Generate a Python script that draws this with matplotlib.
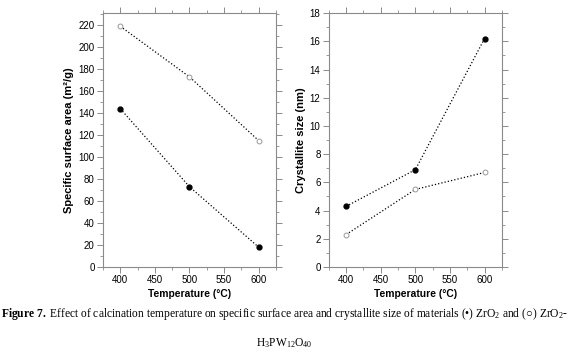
import numpy as np
import matplotlib
matplotlib.use("Agg")
import matplotlib.pyplot as plt
from matplotlib.ticker import MultipleLocator

# dane
temperature = [400, 500, 600]
area_zro2 = [144, 73, 18]
area_hpw = [219, 173, 115]
size_zro2 = [4.3, 6.9, 16.2]
size_hpw = [2.3, 5.5, 6.7]

plt.rcParams['font.family'] = ['Liberation Sans', 'DejaVu Sans']
plt.rcParams['mathtext.fontset'] = 'custom'
plt.rcParams['mathtext.rm'] = 'Liberation Serif'
plt.rcParams['mathtext.it'] = 'Liberation Serif:italic'
plt.rcParams['mathtext.bf'] = 'Liberation Serif:bold'
grey = '#8a8a8a'

fig = plt.figure(figsize=(5.69, 3.55), dpi=100)
ax1 = fig.add_axes([0.181, 0.248, 0.304, 0.715])
ax2 = fig.add_axes([0.578, 0.248, 0.304, 0.715])


def style(ax):
    for s in ax.spines.values():
        s.set_color(grey)
        s.set_linewidth(0.8)
    ax.tick_params(which='both', direction='out', color=grey, labelsize=7,
                   top=True, right=True, labeltop=False, labelright=False, pad=2)
    ax.tick_params(which='major', length=4, width=0.7)
    ax.tick_params(which='minor', length=2, width=0.6)
    ax.set_xlim(375, 625)
    ax.xaxis.set_major_locator(MultipleLocator(50))
    ax.xaxis.set_minor_locator(MultipleLocator(25))
    ax.set_xlabel("Temperature (°C)", fontsize=7.4, fontweight='bold', labelpad=3)


# powierzchnia właściwa
ax1.plot(temperature, area_hpw, ':', color='k', lw=0.9, marker='o', ms=3.5,
         mfc='white', mec='#999999', mew=0.7)
ax1.plot(temperature, area_zro2, ':', color='k', lw=0.9, marker='o', ms=3.5,
         mfc='k', mec='k')
ax1.set_ylim(0, 231)
ax1.yaxis.set_major_locator(MultipleLocator(20))
ax1.yaxis.set_minor_locator(MultipleLocator(10))
ax1.set_ylabel("Specific surface area (m²/g)", fontsize=8, fontweight='bold', labelpad=3)
style(ax1)

# rozmiar krystalitów
ax2.plot(temperature, size_zro2, ':', color='k', lw=0.9, marker='o', ms=3.5,
         mfc='k', mec='k')
ax2.plot(temperature, size_hpw, ':', color='k', lw=0.9, marker='o', ms=3.5,
         mfc='white', mec='#999999', mew=0.7)
ax2.set_ylim(0, 18)
ax2.yaxis.set_major_locator(MultipleLocator(2))
ax2.yaxis.set_minor_locator(MultipleLocator(1))
ax2.set_ylabel("Crystallite size (nm)", fontsize=8, fontweight='bold', labelpad=3)
style(ax2)

# podpis
serif = ['Liberation Serif', 'DejaVu Serif']
fig.text(0.5, 1 - 314 / 355,
         r"$\mathbf{Figure\ 7.}$ Effect of calcination temperature on specific surface area and "
         r"crystallite size of materials (•) ZrO$_2$ and (○) ZrO$_2$-",
         ha='center', va='center', fontsize=8.3, family=serif)
fig.text(0.5, 1 - 343 / 355, r"H$_3$PW$_{12}$O$_{40}$",
         ha='center', va='center', fontsize=8.3, family=serif)

fig.savefig("out.png", dpi=100)
